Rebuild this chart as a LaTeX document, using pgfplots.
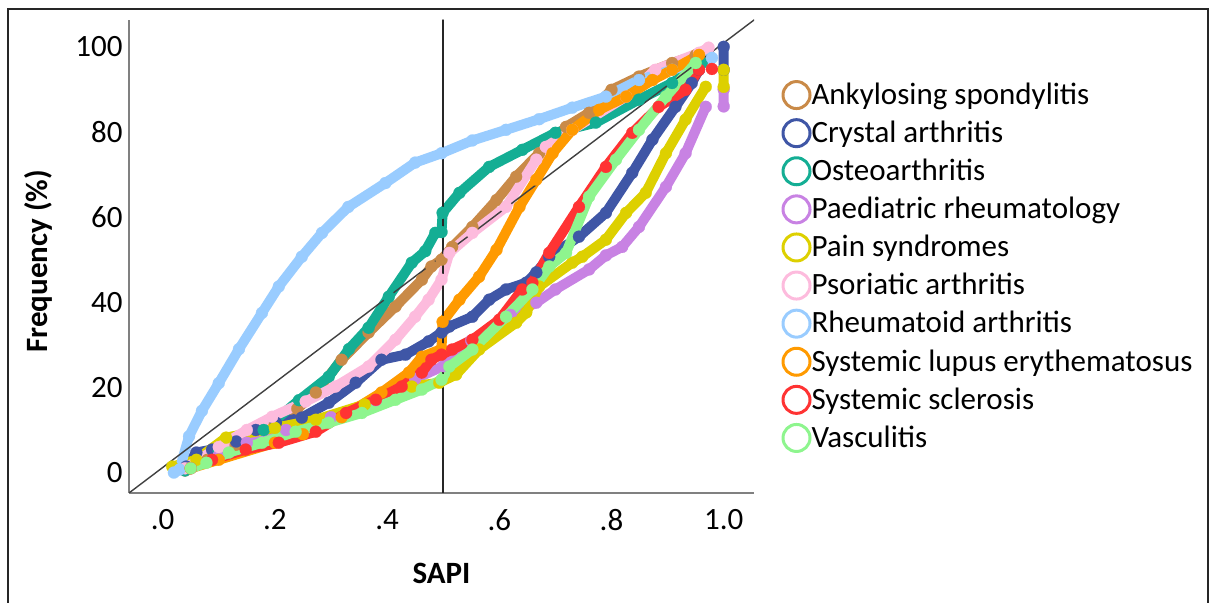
\documentclass[border=0pt]{standalone}
\usepackage{pgfplots}
\pgfplotsset{compat=1.18}
\usepackage{fontspec}
\setmainfont{Carlito}
\definecolor{cAS}{RGB}{201,138,72}
\definecolor{cCA}{RGB}{63,86,166}
\definecolor{cOA}{RGB}{20,174,148}
\definecolor{cPR}{RGB}{200,130,227}
\definecolor{cPS}{RGB}{221,208,0}
\definecolor{cPSA}{RGB}{253,187,221}
\definecolor{cRA}{RGB}{153,204,255}
\definecolor{cSLE}{RGB}{255,154,0}
\definecolor{cSS}{RGB}{255,51,51}
\definecolor{cVAS}{RGB}{142,245,142}
\begin{document}
\begin{tikzpicture}
\path[use as bounding box] (0,0) rectangle (604.5pt,301.5pt);
\draw[line width=1pt, black!85] (4pt,0) -- (4pt,297pt) -- (603.75pt,297pt) -- (603.75pt,0);
\begin{axis}[
  at={(64.5pt,55pt)}, anchor=south west,
  scale only axis, width=312.5pt, height=236.5pt,
  xmin=-0.06, xmax=1.054, ymin=-4.8, ymax=106.3,
  axis x line*=bottom, axis y line*=left,
  axis line style={draw=black!50, line width=0.75pt},
  major tick length=0pt,
  xtick={0,0.2,0.4,0.6,0.8,1.0},
  xticklabels={.0,.2,.4,.6,.8,1.0},
  ytick={0,20,40,60,80,100},
  /pgf/number format/assume math mode=true,
  tick label style={font=\fontsize{15.5}{18}\selectfont},
  xticklabel style={anchor=center, yshift=-13.5pt},
  yticklabel style={anchor=east, inner sep=0pt, xshift=-3pt},
  xlabel={\bfseries SAPI},
  ylabel={\bfseries Frequency (\%)},
  label style={font=\fontsize{15.5}{18}\selectfont},
  xlabel style={at={(axis description cs:0.5,0)}, anchor=center, yshift=-40pt},
  ylabel style={at={(axis description cs:-0.1456,0.49)}, anchor=center},
  unbounded coords=jump,
  every axis plot/.append style={line width=5pt, line join=round, line cap=round, mark=*, mark size=3pt, mark options={line width=0.1pt, solid}},
  legend cell align=left,
  legend image code/.code={\draw[#1, fill=none, line width=1.5pt, mark=none] (6.75pt,0pt) circle (6.75pt);},
  legend style={at={(1.044,0.873)}, anchor=north west, draw=none, fill=none,
    inner sep=0pt, outer sep=0pt, row sep=4.05pt,
    font=\fontsize{15.5}{18}\selectfont,
    nodes={inner sep=0pt},
    /tikz/every odd column/.append style={column sep=0pt}},
]
\addplot[color=cAS] coordinates {(0.04,0.5)(0.08,3)(0.13,6.5)(0.2,11.5)(0.24,15)(0.273,18.8)(0.319,26.5)(0.367,32.9)(0.415,39)(0.462,45.3)(0.479,48.4)(0.497,50)(0.516,53)(0.552,57.7)(0.595,64)(0.63,69.5)(0.671,75)(0.719,81.2)(0.76,84.5)(0.80,89.9)(0.849,93)(0.908,96.2)(0.95,98)};
\addlegendentry{Ankylosing spondylitis}
\addplot[color=cCA] coordinates {(0.042,1.4)(0.06,4.7)(0.088,5.4)(0.131,7.3)(0.166,10)(0.202,11.7)(0.248,12.9)(0.296,16.4)(0.344,21.1)(0.39,26.5)(0.433,27.7)(0.474,30.8)(0.497,32.9)(0.511,34.3)(0.552,36.6)(0.582,40.6)(0.612,43)(0.648,44.6)(0.666,47)(0.689,50.7)(0.742,55.4)(0.79,61)(0.837,70.4)(0.873,78.2)(0.914,85.9)(0.943,91.5)(0.956,94.6)(0.98,nan)(1.0,94.6)(1.0,100)};
\addlegendentry{Crystal arthritis}
\addplot[color=cOA] coordinates {(0.04,0.5)(0.1,5)(0.18,10)(0.243,17)(0.296,22.5)(0.332,29)(0.367,34)(0.403,41.3)(0.444,49.3)(0.468,52)(0.486,56.3)(0.497,56.5)(0.499,61)(0.529,65.7)(0.582,71.8)(0.641,75.8)(0.70,79.8)(0.772,82.2)(0.849,87.6)(0.908,91.5)(0.961,96.2)};
\addlegendentry{Osteoarthritis}
\addplot[color=cPR] coordinates {(0.05,1)(0.1,4)(0.15,7)(0.22,10)(0.3,13)(0.38,17)(0.45,22)(0.5,25)(0.55,31)(0.62,37)(0.666,39.9)(0.70,43)(0.76,47.7)(0.79,51)(0.819,53)(0.849,57.7)(0.897,67.1)(0.932,75)(0.968,85.9)(0.98,nan)(1.0,86)(1.0,90)};
\addlegendentry{Paediatric rheumatology}
\addplot[color=cPS] coordinates {(0.017,1.4)(0.06,3)(0.113,8.2)(0.2,10.5)(0.273,12.4)(0.36,16)(0.444,20.2)(0.493,21.1)(0.523,23)(0.564,28.9)(0.63,35.2)(0.648,37.6)(0.671,43.7)(0.73,49.3)(0.748,50.7)(0.79,54.7)(0.826,61)(0.861,65.7)(0.897,75)(0.932,82.9)(0.968,90.6)(0.98,nan)(1.0,90.6)(1.0,94.6)};
\addlegendentry{Pain syndromes}
\addplot[color=cPSA] coordinates {(0.04,1)(0.1,6)(0.15,10)(0.195,13.1)(0.255,16.7)(0.308,20.2)(0.367,24.9)(0.415,31.2)(0.45,36.6)(0.474,40.6)(0.497,45.3)(0.511,51.6)(0.552,56.3)(0.612,62.4)(0.666,73.5)(0.683,76.5)(0.73,80.5)(0.826,88.3)(0.878,94.6)(0.956,98.6)(0.973,99.8)};
\addlegendentry{Psoriatic arthritis}
\addplot[color=cRA] coordinates {(0.02,0)(0.03,0.7)(0.047,8.5)(0.07,14.5)(0.1,21)(0.136,29)(0.177,37.5)(0.207,43.7)(0.248,50.7)(0.284,56.3)(0.331,62.4)(0.397,68)(0.45,72.8)(0.497,75)(0.552,78)(0.612,80.5)(0.671,83)(0.73,85.7)(0.79,88.3)(0.849,92.2)(0.908,94.6)(0.979,97.4)};
\addlegendentry{Rheumatoid arthritis}
\addplot[color=cSLE] coordinates {(0.05,1)(0.1,3)(0.2,7)(0.25,9)(0.319,13)(0.39,18.8)(0.439,23.5)(0.462,27.2)(0.497,29)(0.499,35.4)(0.529,40.6)(0.564,46)(0.595,52.3)(0.636,62.4)(0.666,68.8)(0.695,75)(0.73,80.5)(0.778,85.2)(0.826,88.3)(0.873,92.2)(0.908,94.6)(0.956,98.1)};
\addlegendentry{Systemic lupus erythematosus}
\addplot[color=cSS] coordinates {(0.05,1)(0.088,3)(0.148,5.4)(0.207,7)(0.273,9.6)(0.327,14)(0.38,17.1)(0.426,20.2)(0.462,23.5)(0.479,26.5)(0.497,27.7)(0.516,28.9)(0.552,31.2)(0.6,35.9)(0.641,43)(0.659,44.6)(0.689,51.6)(0.742,62.4)(0.79,71.8)(0.837,79.8)(0.884,85.9)(0.932,89.9)(0.956,94.6)(0.968,nan)(0.979,94.8)};
\addlegendentry{Systemic sclerosis}
\addplot[color=cVAS] coordinates {(0.05,1)(0.078,2.3)(0.118,4.7)(0.177,7)(0.237,9.6)(0.296,11.7)(0.355,14)(0.415,17.1)(0.462,19.5)(0.497,21.8)(0.511,24.9)(0.552,28.9)(0.612,36.6)(0.659,43)(0.689,48.4)(0.719,51.6)(0.76,64.8)(0.808,73.5)(0.849,80.5)(0.897,88.3)(0.95,96.2)};
\addlegendentry{Vasculitis}
\addplot[black!75, line width=0.7pt, mark=none, forget plot] coordinates {(-0.06,-4.8)(1.054,106.3)};
\addplot[black!85, line width=0.7pt, mark=none, forget plot] coordinates {(0.5,-4.8)(0.5,106.3)};
\end{axis}
\end{tikzpicture}
\end{document}
